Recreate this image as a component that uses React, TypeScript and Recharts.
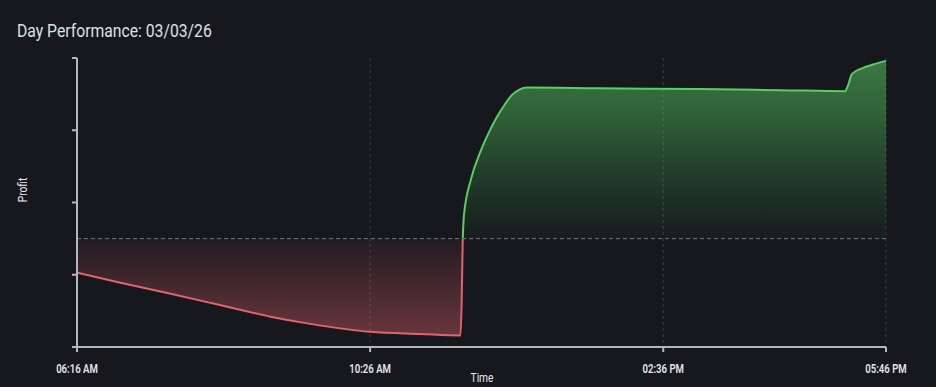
import React from "react";
import {
  AreaChart,
  Area,
  XAxis,
  YAxis,
  CartesianGrid,
  ReferenceLine,
} from "recharts";

// minutes since midnight
const times = [
  376, 413, 455, 498, 541, 575, 626, 669, 703, 705, 706, 712, 720, 727, 734,
  741, 747, 753, 760, 822, 907, 976, 1031, 1034, 1037, 1046, 1055, 1066,
];
const profit = [
  -47, -61, -76, -92, -108, -118, -129, -132, -134, 0, 32, 82, 120, 146, 168,
  186, 199, 206, 209, 208, 207, 205.5, 204, 214, 228, 236, 241, 246,
];
const timeTicks = [376, 626, 876, 1066];
const profitTicks = [-150, -50, 50, 150, 250];

const data = times.map((t, i) => ({
  t,
  loss: profit[i] <= 0 ? profit[i] : null,
  gain: profit[i] >= 0 ? profit[i] : null,
}));

const fmtTime = (m: number) => {
  const h = Math.floor(m / 60);
  const mm = m % 60;
  const h12 = h % 12 === 0 ? 12 : h % 12;
  const pad = (n: number) => String(n).padStart(2, "0");
  return `${pad(h12)}:${pad(mm)} ${h >= 12 ? "PM" : "AM"}`;
};

const BG = "#16181d";
const FONT = "Roboto, 'Noto Sans', sans-serif";

const TimeTick = (props: any) => {
  const { x, payload } = props;
  return (
    <g transform={`translate(${x},373) scale(0.8,1)`}>
      <text
        x={0}
        y={0}
        textAnchor="middle"
        fill="#e4e6e9"
        fontSize={12}
        fontWeight={600}
        fontFamily={FONT}
      >
        {fmtTime(payload.value)}
      </text>
    </g>
  );
};

export default function App() {
  return (
    <div
      style={{
        position: "absolute",
        left: 0,
        top: 0,
        width: 936,
        height: 387,
        background: BG,
        overflow: "hidden",
      }}
    >
      <div
        style={{
          position: "absolute",
          left: 17,
          top: 22,
          fontFamily: FONT,
          fontSize: 18.5,
          lineHeight: "18px",
          color: "#dde1e6",
          whiteSpace: "nowrap",
          transform: "scaleX(0.85)",
          transformOrigin: "left top",
        }}
      >
        Day Performance: 03/03/26
      </div>
      <AreaChart
        width={936}
        height={387}
        data={data}
        margin={{ top: 58, right: 50, left: 17, bottom: 0 }}
      >
        <defs>
          <linearGradient id="lossFill" x1="0" y1="0" x2="0" y2="1">
            <stop offset="0%" stopColor="#dc5e68" stopOpacity={0.1} />
            <stop offset="100%" stopColor="#dc5e68" stopOpacity={0.7} />
          </linearGradient>
          <linearGradient id="gainFill" x1="0" y1="0" x2="0" y2="1">
            <stop offset="0%" stopColor="#52b85c" stopOpacity={1} />
            <stop offset="30%" stopColor="#48a852" stopOpacity={0.85} />
            <stop offset="100%" stopColor="#3c8f46" stopOpacity={0.06} />
          </linearGradient>
        </defs>
        <CartesianGrid
          horizontal={false}
          stroke="#3c3f46"
          strokeDasharray="3 3"
        />
        <XAxis
          dataKey="t"
          type="number"
          domain={[376, 1066]}
          ticks={timeTicks}
          height={40}
          tickSize={5}
          stroke="#b4b8be"
          strokeWidth={2}
          tick={<TimeTick />}
          label={{
            content: () => (
              <g transform="translate(482,382) scale(0.85,1)">
                <text
                  x={0}
                  y={0}
                  textAnchor="middle"
                  fill="#e8e9ec"
                  fontSize={12}
                  fontFamily={FONT}
                >
                  Time
                </text>
              </g>
            ),
          }}
        />
        <YAxis
          type="number"
          domain={[-150, 250]}
          ticks={profitTicks}
          width={60}
          tickSize={5}
          stroke="#b4b8be"
          strokeWidth={2}
          tick={{ fill: "transparent", fontSize: 10 }}
          label={{
            content: () => (
              <g transform="translate(27,190) rotate(-90) scale(0.85,1)">
                <text
                  x={0}
                  y={0}
                  textAnchor="middle"
                  fill="#e8e9ec"
                  fontSize={12}
                  fontFamily={FONT}
                >
                  Profit
                </text>
              </g>
            ),
          }}
        />
        <ReferenceLine y={0} stroke="#74777d" strokeDasharray="4 3" />
        <Area
          type="monotone"
          dataKey="loss"
          stroke="#e0636d"
          strokeWidth={2}
          fill="url(#lossFill)"
          isAnimationActive={false}
          dot={false}
          activeDot={false}
        />
        <Area
          type="monotone"
          dataKey="gain"
          stroke="#5ccd62"
          strokeWidth={2}
          fill="url(#gainFill)"
          isAnimationActive={false}
          dot={false}
          activeDot={false}
        />
      </AreaChart>
    </div>
  );
}
